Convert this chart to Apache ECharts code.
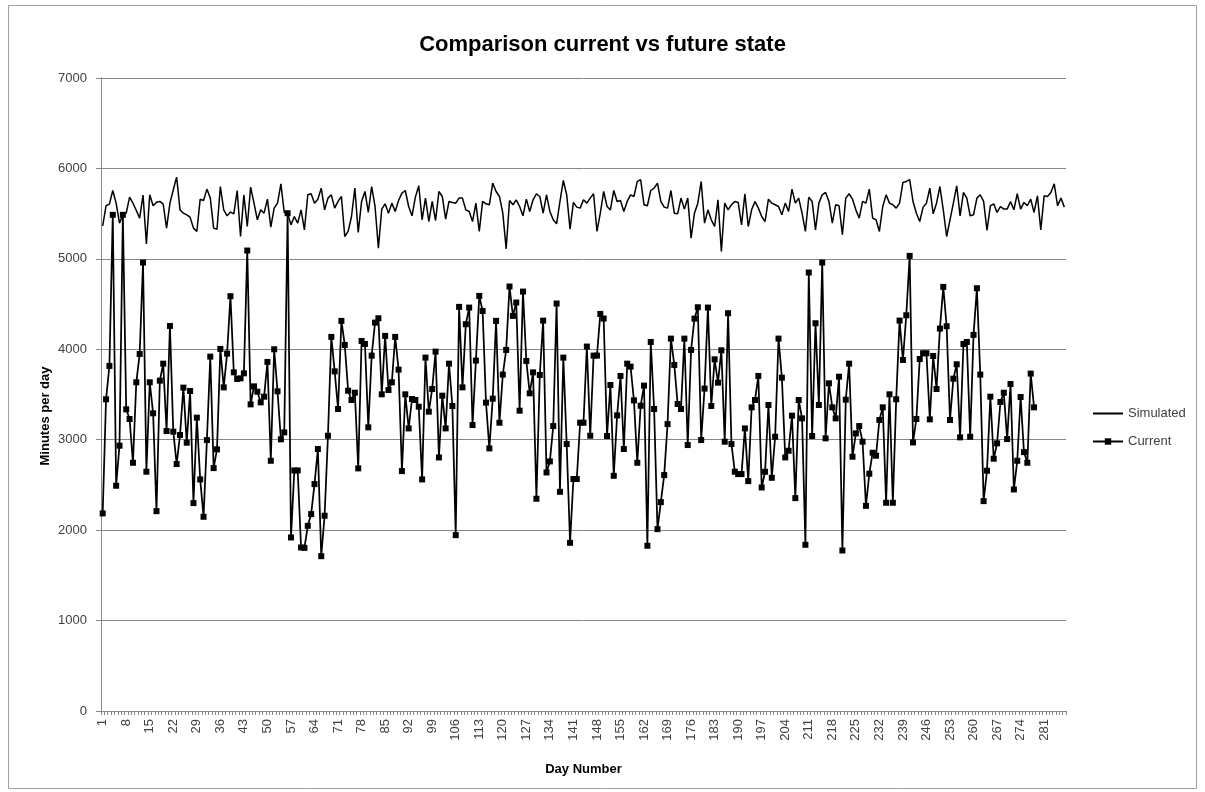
<!DOCTYPE html>
<html>
<head>
<meta charset="utf-8">
<title>Comparison current vs future state</title>
<script src="https://cdn.jsdelivr.net/npm/echarts@6/dist/echarts.min.js"></script>
<style>
  html, body { margin: 0; padding: 0; background: #fff; }
  #chart { width: 1205px; height: 792px; }
</style>
</head>
<body>
<div id="chart"></div>
<script>
// day numbers 1..287
const days = []
for (let d = 1; d <= 287; d++) days.push(String(d))

// simulated (future state) minutes per day
const simulated = [
  5365, 5587, 5605, 5756, 5616, 5395, 5487, 5505, 5683, 5616, 5535, 5450, 5705, 5166, 5708, 5587, 5627, 5635, 5605, 5340,
  5616, 5764, 5904, 5542, 5505, 5487, 5461, 5340, 5303, 5660, 5646, 5771, 5672, 5340, 5328,
  5800, 5542, 5476, 5517, 5498, 5756, 5247, 5708, 5358, 5793, 5616, 5432, 5542, 5505, 5660, 5351, 5561, 5616, 5830, 5513,
  5505, 5376, 5468, 5395, 5542, 5321, 5708, 5720, 5616, 5660, 5782, 5542, 5672, 5708, 5561, 5635,
  5690, 5247, 5303, 5468, 5782, 5291, 5635, 5745, 5513, 5800, 5579, 5118, 5550, 5609, 5505, 5616, 5524, 5646, 5727, 5756,
  5579, 5476, 5683, 5808, 5432, 5672, 5413, 5635, 5424, 5745, 5690, 5439, 5635, 5624, 5616, 5672,
  5672, 5542, 5524, 5413, 5616, 5303, 5635, 5609, 5598, 5838, 5745, 5690, 5505, 5111, 5646, 5598, 5653, 5579, 5476, 5660,
  5524, 5653, 5720, 5690, 5505, 5708, 5524, 5432, 5387, 5635, 5867, 5708, 5328, 5624, 5572, 5561,
  5653, 5616, 5672, 5720, 5303, 5505, 5745, 5579, 5542, 5756, 5635, 5646, 5524, 5635, 5708, 5690, 5856, 5875, 5598, 5587,
  5756, 5782, 5838, 5635, 5572, 5561, 5756, 5505, 5498, 5672, 5550, 5672, 5229, 5505, 5616,
  5856, 5395, 5542, 5432, 5358, 5653, 5081, 5616, 5542, 5598, 5635, 5624, 5376, 5720, 5358, 5542, 5635, 5561, 5468, 5413,
  5660, 5616, 5598, 5579, 5487, 5616, 5524, 5771, 5616, 5672, 5505, 5303, 5683, 5635, 5321, 5616,
  5708, 5734, 5635, 5395, 5598, 5587, 5266, 5672, 5720, 5660, 5542, 5450, 5635, 5616, 5771, 5450, 5432, 5303, 5579, 5708,
  5616, 5598, 5561, 5616, 5845, 5856, 5875, 5635, 5505, 5413, 5572, 5616, 5782, 5498, 5616, 5800,
  5542, 5247, 5432, 5616, 5808, 5476, 5734, 5672, 5476, 5487, 5672, 5708, 5635, 5314, 5587, 5609, 5513, 5579, 5550, 5550,
  5635, 5542, 5720, 5550, 5624, 5587, 5660, 5513, 5697, 5321, 5697, 5690, 5734, 5830, 5587, 5672, 5572
]

// current state minutes per day (days 1..278)
const current = [
  2185, 3447, 3816, 5487, 2491, 2934, 5487, 3336, 3229, 2745, 3635, 3948, 4959, 2646, 3635, 3292, 2210, 3653, 3841, 3096,
  4258, 3089, 2731, 3052, 3576, 2967, 3539, 2299, 3244, 2561, 2148, 2996, 3919, 2686, 2893,
  4004, 3579, 3952, 4587, 3745, 3672, 3679, 3734, 5092, 3391, 3590, 3531, 3413, 3476, 3860, 2767, 4000, 3535, 3004, 3081,
  5505, 1919, 2660, 2660, 1808, 1804, 2048, 2177, 2509, 2897, 1712, 2159, 3044, 4137, 3756, 3340,
  4314, 4048, 3542, 3439, 3520, 2683, 4092, 4059, 3137, 3930, 4295, 4343, 3502, 4148, 3550, 3635, 4137, 3775, 2653, 3502,
  3125, 3450, 3439, 3365, 2561, 3908, 3310, 3561, 3974, 2804, 3487, 3125, 3841, 3373, 1945, 4469,
  3579, 4277, 4461, 3162, 3875, 4590, 4424, 3410, 2904, 3454, 4314, 3188, 3720, 3993, 4694, 4369, 4517, 3321, 4638, 3871,
  3513, 3745, 2347, 3716, 4317, 2638, 2760, 3151, 4506, 2424, 3908, 2952, 1860, 2565, 2565, 3188,
  3188, 4030, 3044, 3930, 3930, 4391, 4340, 3041, 3605, 2601, 3269, 3705, 2897, 3841, 3808, 3435, 2745, 3376, 3598, 1827,
  4081, 3340, 2011, 2310, 2609, 3173, 4118, 3827, 3395, 3340, 4118, 2941, 3993, 4339, 4465,
  2996, 3565, 4461, 3373, 3889, 3631, 3989, 2978, 4399, 2952, 2646, 2620, 2620, 3125, 2542, 3358, 3439, 3705, 2472, 2646,
  3384, 2579, 3033, 4118, 3686, 2804, 2878, 3266, 2354, 3439, 3236, 1838, 4849, 3041, 4288, 3384,
  4959, 3015, 3624, 3358, 3236, 3697, 1775, 3443, 3841, 2812, 3070, 3151, 2978, 2269, 2624, 2856, 2823, 3218, 3358, 2303,
  3502, 2303, 3447, 4317, 3882, 4376, 5033, 2970, 3229, 3893, 3956, 3956, 3225, 3926, 3561, 4229,
  4690, 4255, 3218, 3675, 3834, 3026, 4059, 4081, 3033, 4159, 4675, 3720, 2321, 2657, 3476, 2790, 2960, 3417, 3520, 3007,
  3616, 2450, 2767, 3472, 2863, 2745, 3731, 3358
]

const font = 'Liberation Sans, Arial, sans-serif'
const axisGray = '#868686'
const textColor = '#404040'

const chart = echarts.init(document.getElementById('chart'))

const option = {
  backgroundColor: '#fff',
  animation: false,
  title: {
    text: 'Comparison current vs future state',
    left: 'center',
    top: 29,
    textStyle: { fontFamily: font, fontSize: 22, fontWeight: 'bold', color: '#000' }
  },
  legend: {
    orient: 'vertical',
    left: 1087,
    top: 402,
    itemWidth: 30,
    itemHeight: 8,
    itemGap: 15,
    textStyle: { fontFamily: font, fontSize: 13, color: textColor },
    data: [
      // simulated has no markers, so hide the legend symbol
      { name: 'Simulated', itemStyle: { color: 'rgba(0,0,0,0)', borderColor: 'rgba(0,0,0,0)', borderWidth: 0 } },
      'Current'
    ]
  },
  grid: {
    left: 101,
    right: 139,
    top: 78,
    bottom: 81
  },
  xAxis: {
    type: 'category',
    data: days,
    boundaryGap: true,
    name: 'Day Number',
    nameLocation: 'middle',
    nameGap: 52,
    nameTextStyle: { fontFamily: font, fontSize: 13, fontWeight: 'bold', color: '#000' },
    axisLine: { lineStyle: { color: axisGray, width: 1 } },
    axisTick: { show: true, interval: 0, length: 4, lineStyle: { color: axisGray } },
    axisLabel: {
      interval: 6,
      rotate: 90,
      margin: 8,
      fontFamily: font,
      fontSize: 13,
      color: textColor
    },
    splitLine: { show: false }
  },
  yAxis: {
    type: 'value',
    min: 0,
    max: 7000,
    interval: 1000,
    axisLine: { show: true, lineStyle: { color: axisGray, width: 1 } },
    axisTick: { show: true, length: 5, lineStyle: { color: axisGray } },
    axisLabel: {
      margin: 14,
      fontFamily: font,
      fontSize: 13,
      color: textColor,
      formatter: v => String(v)
    },
    splitLine: { show: true, lineStyle: { color: axisGray, width: 1 } }
  },
  graphic: [
    {
      type: 'rect',
      shape: { x: 8.5, y: 5.5, width: 1188, height: 783 },
      style: { fill: 'none', stroke: '#a0a0a0', lineWidth: 1 },
      silent: true,
      z: -1
    },
    {
      type: 'text',
      x: 45,
      y: 416,
      rotation: Math.PI / 2,
      style: {
        text: 'Minutes per day',
        fontFamily: font,
        fontSize: 13,
        fontWeight: 'bold',
        fill: '#000',
        align: 'center',
        verticalAlign: 'middle'
      }
    }
  ],
  series: [
    {
      name: 'Simulated',
      type: 'line',
      data: simulated,
      symbol: 'none',
      lineStyle: { color: '#000', width: 1.5 },
      itemStyle: { color: '#000' }
    },
    {
      name: 'Current',
      type: 'line',
      data: current,
      symbol: 'rect',
      symbolSize: 6,
      showAllSymbol: true,
      lineStyle: { color: '#000', width: 1.75 },
      itemStyle: { color: '#000' }
    }
  ]
}

chart.setOption(option)
</script>
</body>
</html>
